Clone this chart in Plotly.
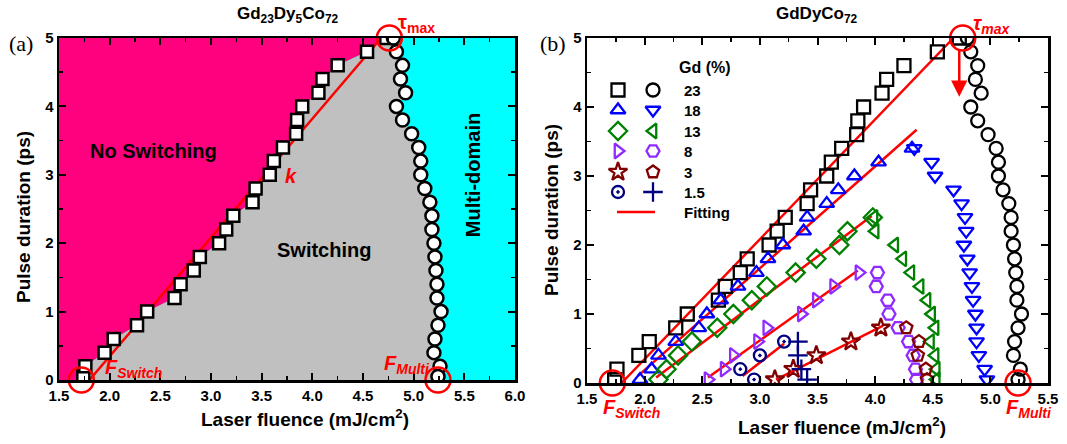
import plotly.graph_objects as go

# ---------------- data ----------------
# 23 % Gd : switching threshold (squares) and multi-domain threshold (circles)
sq23_x = [1.74, 1.76, 1.95, 2.04, 2.27, 2.37, 2.64, 2.70, 2.83, 2.89, 3.08, 3.15, 3.22,
          3.41, 3.44, 3.58, 3.62, 3.71, 3.84, 3.85, 3.90, 4.06, 4.10, 4.25, 4.54, 4.73]
sq23_y = [0.05, 0.2, 0.4, 0.6, 0.8, 1.0, 1.2, 1.4, 1.6, 1.8, 2.0, 2.2, 2.4,
          2.6, 2.8, 3.0, 3.2, 3.4, 3.6, 3.8, 4.0, 4.2, 4.4, 4.6, 4.8, 5.0]
ci23_x = [4.80, 4.83, 4.89, 4.87, 4.92, 4.83, 4.89, 4.98, 5.05, 5.07, 5.07, 5.11, 5.16,
          5.18, 5.18, 5.20, 5.21, 5.22, 5.23, 5.23, 5.27, 5.24, 5.21, 5.20, 5.26, 5.24]
ci23_y = [5.0, 4.8, 4.6, 4.4, 4.2, 4.0, 3.8, 3.6, 3.4, 3.2, 3.0, 2.8, 2.6,
          2.4, 2.2, 2.0, 1.8, 1.6, 1.4, 1.2, 1.0, 0.8, 0.6, 0.4, 0.2, 0.05]

# 18 %
bu_x = [1.96, 2.06, 2.12, 2.27, 2.47, 2.54, 2.66, 2.81, 2.97, 3.07, 3.20, 3.38, 3.41, 3.58, 3.68, 3.82, 4.03, 4.32]
bu_y = [0.05, 0.2, 0.4, 0.6, 0.8, 1.0, 1.2, 1.4, 1.6, 1.8, 2.0, 2.2, 2.4, 2.6, 2.8, 3.0, 3.2, 3.4]
bd_x = [4.34, 4.49, 4.52, 4.68, 4.75, 4.78, 4.79, 4.77, 4.80, 4.82, 4.84, 4.85, 4.87, 4.88, 4.88, 4.90, 4.95, 4.97]
bd_y = [3.4, 3.2, 3.0, 2.8, 2.6, 2.4, 2.2, 2.0, 1.8, 1.6, 1.4, 1.2, 1.0, 0.8, 0.6, 0.4, 0.2, 0.05]
# 13 %
gd_x = [2.12, 2.19, 2.29, 2.41, 2.63, 2.77, 2.93, 3.06, 3.31, 3.49, 3.69, 3.76, 3.98]
gd_y = [0.05, 0.2, 0.4, 0.6, 0.8, 1.0, 1.2, 1.4, 1.6, 1.8, 2.0, 2.2, 2.4]
gl_x = [3.99, 4.00, 4.17, 4.24, 4.31, 4.39, 4.45, 4.49, 4.52, 4.48, 4.52, 4.53, 4.53]
gl_y = [2.4, 2.2, 2.0, 1.8, 1.6, 1.4, 1.2, 1.0, 0.8, 0.6, 0.4, 0.2, 0.05]
# 8 %
pr_x = [2.55, 2.69, 2.77, 2.98, 3.06, 3.36, 3.49, 3.64, 3.86]
pr_y = [0.05, 0.2, 0.4, 0.6, 0.8, 1.0, 1.2, 1.4, 1.6]
ph_x = [4.02, 4.01, 4.11, 4.12, 4.20, 4.29, 4.33, 4.35, 4.36]
ph_y = [1.6, 1.4, 1.2, 1.0, 0.8, 0.6, 0.4, 0.2, 0.05]
# 3 %
st_x = [3.13, 3.29, 3.49, 3.79, 4.05]
st_y = [0.05, 0.2, 0.4, 0.6, 0.8]
pe_x = [4.27, 4.38, 4.37, 4.44, 4.45]
pe_y = [0.8, 0.6, 0.4, 0.2, 0.05]
# 1.5 %
nc_x = [2.95, 2.83, 3.00, 3.21]
nc_y = [0.05, 0.2, 0.4, 0.6]
np_x = [3.33, 3.33, 3.36, 3.41]
np_y = [0.6, 0.4, 0.2, 0.05]

# linear fits (end points)
fit23_x, fit23_y = [1.80, 4.68], [0.0, 5.0]
fit18_x, fit18_y = [1.94, 4.36], [0.10, 3.67]
fit13_x, fit13_y = [2.10, 3.97], [0.08, 2.42]
fit8_x, fit8_y = [2.55, 3.85], [0.08, 1.63]
fit3_x, fit3_y = [3.14, 4.07], [0.05, 0.83]
fit15_x, fit15_y = [2.85, 3.21], [0.10, 0.57]

# characteristic points
F_SWITCH = 1.72
F_MULTI = 5.24
TAU_MAX = 5.0
F_TAU = 4.76

legend_labels = ["23", "18", "13", "8", "3", "1.5", "Fitting"]

XL_RANGE = [1.5, 6.0]
XR_RANGE = [1.5, 5.5]
Y_RANGE = [0, 5]

# ---------------- styling ----------------
W, H = 1067, 444
FONT = "Arial, Liberation Sans, sans-serif"
RED = "#FF0000"
PINK = "#FF007F"
GRAY = "#C0C0C0"
CYAN = "#00FFFF"
BLUE = "#0000FF"
GREEN = "#008000"
PURPLE = "#8F2BFF"
DRED = "#800000"
NAVY = "#000080"


def px_x(p):
    return p / W


def px_y(p):
    return 1 - p / H


fig = go.Figure()

# ---- left panel background regions ----
fig.add_trace(go.Scatter(
    x=[XL_RANGE[0], sq23_x[0]] + sq23_x + [XL_RANGE[0]],
    y=[Y_RANGE[0], Y_RANGE[0]] + sq23_y + [Y_RANGE[1]],
    fill="toself", fillcolor=PINK, mode="none", xaxis="x", yaxis="y", showlegend=False, hoverinfo="skip"))
fig.add_trace(go.Scatter(
    x=[sq23_x[0]] + sq23_x + ci23_x + [ci23_x[-1]],
    y=[Y_RANGE[0]] + sq23_y + ci23_y + [Y_RANGE[0]],
    fill="toself", fillcolor=GRAY, mode="none", xaxis="x", yaxis="y", showlegend=False, hoverinfo="skip"))

# left fit line
fig.add_trace(go.Scatter(x=fit23_x, y=fit23_y, mode="lines", line=dict(color=RED, width=2.5),
                         xaxis="x", yaxis="y", showlegend=False))
# left markers
fig.add_trace(go.Scatter(x=sq23_x, y=sq23_y, mode="markers", xaxis="x", yaxis="y", showlegend=False,
                         marker=dict(symbol="square", size=12, color="white", line=dict(color="black", width=2.5))))
fig.add_trace(go.Scatter(x=ci23_x, y=ci23_y, mode="markers", xaxis="x", yaxis="y", showlegend=False,
                         marker=dict(symbol="circle", size=13, color="white", line=dict(color="black", width=2.5))))

# ---- right panel ----
for fx, fy in [(fit23_x, fit23_y), (fit18_x, fit18_y), (fit13_x, fit13_y),
               (fit8_x, fit8_y), (fit3_x, fit3_y), (fit15_x, fit15_y)]:
    fig.add_trace(go.Scatter(x=fx, y=fy, mode="lines", line=dict(color=RED, width=2.5),
                             xaxis="x2", yaxis="y2", showlegend=False))

series = [
    (sq23_x, sq23_y, "square-open", "black", 13),
    (ci23_x, ci23_y, "circle-open", "black", 13),
    (bu_x, bu_y, "triangle-up-open", BLUE, 13),
    (bd_x, bd_y, "triangle-down-open", BLUE, 13),
    (gd_x, gd_y, "diamond-open", GREEN, 14),
    (gl_x, gl_y, "triangle-left-open", GREEN, 13),
    (pr_x, pr_y, "triangle-right-open", PURPLE, 13),
    (ph_x, ph_y, "hexagon2-open", PURPLE, 13),
    (st_x, st_y, "star-open", DRED, 14),
    (pe_x, pe_y, "pentagon-open", DRED, 13),
    (nc_x, nc_y, "circle-open-dot", NAVY, 12),
    (np_x, np_y, "cross-thin-open", NAVY, 14),
]
for sx, sy, sym, col, sz in series:
    fig.add_trace(go.Scatter(x=sx, y=sy, mode="markers", xaxis="x2", yaxis="y2", showlegend=False,
                             marker=dict(symbol=sym, size=sz, color=col, line=dict(color=col, width=2.3))))

# red marking circles
for ax_x, ax_y in [("x", "y"), ("x2", "y2")]:
    fig.add_trace(go.Scatter(x=[F_SWITCH, F_TAU, F_MULTI], y=[Y_RANGE[0], TAU_MAX, Y_RANGE[0]],
                             mode="markers", xaxis=ax_x, yaxis=ax_y, showlegend=False, cliponaxis=False,
                             marker=dict(symbol="circle-open", size=25, color=RED, line=dict(color=RED, width=2.5))))

# ---- manual legend (overlay axes in page-pixel units) ----
leg_rows = [90, 110, 131, 151, 172, 192, 212]
leg_col1, leg_col2, leg_text = 618, 653, 682
for i, lab in enumerate(legend_labels[:-1]):
    for j, col_x in enumerate([leg_col1, leg_col2]):
        sx, sy, sym, col, sz = series[2 * i + j]
        fig.add_trace(go.Scatter(x=[col_x], y=[leg_rows[i]], mode="markers", xaxis="x3", yaxis="y3",
                                 showlegend=False, cliponaxis=False,
                                 marker=dict(symbol=sym, size=sz, color=col, line=dict(color=col, width=2.3))))
fig.add_trace(go.Scatter(x=[leg_col1 - 1, leg_col2 + 2], y=[leg_rows[6], leg_rows[6]], mode="lines",
                         xaxis="x3", yaxis="y3", showlegend=False, line=dict(color=RED, width=2.5)))

# ---- axes ----
tickfont = dict(family=FONT, size=15, color="black", weight="bold")
common = dict(showline=True, linewidth=2.5, linecolor="black", mirror="allticks", ticks="inside",
              ticklen=7, tickwidth=2, tickcolor="black", showgrid=False, zeroline=False,
              tickfont=tickfont, automargin=False)
LD = [px_x(59), px_x(515)]
RD = [px_x(587), px_x(1048)]
fig.update_layout(
    width=W, height=H, margin=dict(l=0, r=0, t=0, b=0, pad=0, autoexpand=False),
    paper_bgcolor="white", plot_bgcolor="rgba(0,0,0,0)", showlegend=False,
    xaxis=dict(domain=LD, range=XL_RANGE, dtick=0.5, tickformat=".1f", anchor="y",
               minor=dict(ticks="inside", dtick=0.25, ticklen=4, tickwidth=1.5, tickcolor="black"), **common),
    yaxis=dict(domain=[px_y(380), px_y(38)], range=Y_RANGE, dtick=1, anchor="x",
               minor=dict(ticks="inside", dtick=0.5, ticklen=4, tickwidth=1.5, tickcolor="black"), **common),
    xaxis2=dict(domain=RD, range=XR_RANGE, dtick=0.5, tickformat=".1f", anchor="y2",
                minor=dict(ticks="inside", dtick=0.25, ticklen=4, tickwidth=1.5, tickcolor="black"), **common),
    yaxis2=dict(domain=[px_y(383), px_y(38)], range=Y_RANGE, dtick=1, anchor="x2",
                minor=dict(ticks="inside", dtick=0.5, ticklen=4, tickwidth=1.5, tickcolor="black"), **common),
    xaxis3=dict(domain=RD, range=[587, 1048], visible=False, anchor="y3", fixedrange=True, automargin=False),
    yaxis3=dict(domain=[px_y(383), px_y(38)], range=[383, 38], visible=False, anchor="x3", fixedrange=True,
                automargin=False),
)

# cyan background of left panel
fig.add_shape(type="rect", xref="x domain", yref="y domain", x0=0, x1=1, y0=0, y1=1,
              fillcolor=CYAN, line=dict(width=0), layer="below")

ann = []


def text(x, y, t, size=19, color="black", xref="paper", yref="paper", angle=0, family=FONT,
         bold=True, italic=False, xanchor="center"):
    ann.append(dict(x=x, y=y, xref=xref, yref=yref, text=t, showarrow=False, textangle=angle,
                    xanchor=xanchor, yanchor="middle",
                    font=dict(family=family, size=size, color=color,
                              weight="bold" if bold else "normal",
                              style="italic" if italic else "normal")))


# titles and labels
text(px_x(287), px_y(15), "Gd<sub>23</sub>Dy<sub>5</sub>Co<sub>72</sub>", size=17)
text(px_x(817), px_y(15), "GdDyCo<sub>72</sub>", size=17)
text(px_x(21), px_y(44), "(a)", size=22, family="Liberation Serif, Times New Roman, serif", bold=False)
text(px_x(553), px_y(44), "(b)", size=22, family="Liberation Serif, Times New Roman, serif", bold=False)
text(px_x(305), px_y(418), "Laser fluence (mJ/cm<sup>2</sup>)", size=19)
text(px_x(842), px_y(426), "Laser fluence (mJ/cm<sup>2</sup>)", size=19)
text(px_x(23), px_y(217), "Pulse duration (ps)", size=19, angle=-90)
text(px_x(551), px_y(210), "Pulse duration (ps)", size=19, angle=-90)

# left panel in-plot texts
text(2.43, 3.35, "No Switching", size=20, xref="x", yref="y")
text(4.12, 1.90, "Switching", size=20, xref="x", yref="y")
text(5.58, 3.0, "Multi-domain", size=20, xref="x", yref="y", angle=-90)
text(3.79, 2.98, "k", size=20, color=RED, xref="x", yref="y", italic=True)
text(2.24, 0.17, "F<sub>Switch</sub>", size=20, color=RED, xref="x", yref="y", italic=True)
text(4.93, 0.23, "F<sub>Multi</sub>", size=20, color=RED, xref="x", yref="y", italic=True)
text(px_x(416), px_y(23), "τ<sub>max</sub>", size=20, color=RED)

# right panel texts
text(px_x(991), px_y(24), "τ<sub>max</sub>", size=20, color=RED, italic=True)
text(px_x(631), px_y(408), "F<sub>Switch</sub>", size=20, color=RED, italic=True)
text(px_x(1029), px_y(408), "F<sub>Multi</sub>", size=20, color=RED, italic=True)

# legend texts
text(705, 67, "Gd (%)", size=16, xref="x3", yref="y3")
for i, lab in enumerate(legend_labels):
    text(leg_text, leg_rows[i], lab, size=15, xref="x3", yref="y3", xanchor="left")

# arrows (right panel)
arrow = dict(showarrow=True, text="", arrowhead=2, arrowsize=1.3, arrowwidth=2.5, arrowcolor=RED,
             xref="x2", yref="y2", axref="x2", ayref="y2")
ann.append(dict(x=2.38, y=-0.08, ax=F_SWITCH + 0.08, ay=-0.08, **arrow))
ann.append(dict(x=4.60, y=-0.08, ax=F_MULTI - 0.09, ay=-0.08, **arrow))
ann.append(dict(x=F_TAU - 0.03, y=4.15, ax=F_TAU - 0.03, ay=TAU_MAX - 0.14, **arrow))

fig.update_layout(annotations=ann)
fig.write_html("out.html", config={"displayModeBar": False, "staticPlot": True},
               post_script="document.body.style.margin='0px';document.body.style.overflow='hidden';")
